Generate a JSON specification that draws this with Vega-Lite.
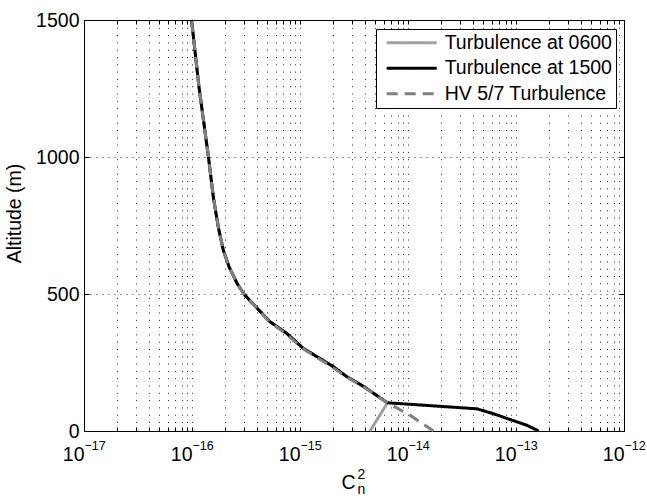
{
  "$schema": "https://vega.github.io/schema/vega-lite/v6.json",
  "width": 540,
  "height": 411,
  "autosize": {"type": "none"},
  "padding": {"left": 84, "top": 20, "right": 23, "bottom": 67},
  "background": "white",
  "config": {
    "view": {"stroke": null},
    "font": "Liberation Sans",
    "axis": {
      "labelFont": "Liberation Sans",
      "titleFont": "Liberation Sans",
      "labelColor": "black",
      "titleColor": "black",
      "domainColor": "black",
      "tickColor": "black",
      "gridColor": "black",
      "titleFontWeight": "normal",
      "labelFlush": false,
      "labelOverlap": false,
      "labelBound": false
    }
  },
  "data": {
    "values": [
      {"series": "Turbulence at 0600", "alt": 1500, "cn2": 9.9e-17},
      {"series": "Turbulence at 0600", "alt": 1256, "cn2": 1.16e-16},
      {"series": "Turbulence at 0600", "alt": 1000, "cn2": 1.42e-16},
      {"series": "Turbulence at 0600", "alt": 850, "cn2": 1.58e-16},
      {"series": "Turbulence at 0600", "alt": 740, "cn2": 1.76e-16},
      {"series": "Turbulence at 0600", "alt": 660, "cn2": 1.95e-16},
      {"series": "Turbulence at 0600", "alt": 600, "cn2": 2.2e-16},
      {"series": "Turbulence at 0600", "alt": 538, "cn2": 2.62e-16},
      {"series": "Turbulence at 0600", "alt": 496, "cn2": 3.08e-16},
      {"series": "Turbulence at 0600", "alt": 399, "cn2": 5.26e-16},
      {"series": "Turbulence at 0600", "alt": 357, "cn2": 7.5e-16},
      {"series": "Turbulence at 0600", "alt": 302, "cn2": 1.07e-15},
      {"series": "Turbulence at 0600", "alt": 235, "cn2": 2.03e-15},
      {"series": "Turbulence at 0600", "alt": 199, "cn2": 2.7e-15},
      {"series": "Turbulence at 0600", "alt": 163, "cn2": 3.86e-15},
      {"series": "Turbulence at 0600", "alt": 103, "cn2": 6.46e-15},
      {"series": "Turbulence at 0600", "alt": 0, "cn2": 4.45e-15},
      {"series": "Turbulence at 1500", "alt": 1500, "cn2": 9.9e-17},
      {"series": "Turbulence at 1500", "alt": 1256, "cn2": 1.16e-16},
      {"series": "Turbulence at 1500", "alt": 1000, "cn2": 1.42e-16},
      {"series": "Turbulence at 1500", "alt": 850, "cn2": 1.58e-16},
      {"series": "Turbulence at 1500", "alt": 740, "cn2": 1.76e-16},
      {"series": "Turbulence at 1500", "alt": 660, "cn2": 1.95e-16},
      {"series": "Turbulence at 1500", "alt": 600, "cn2": 2.2e-16},
      {"series": "Turbulence at 1500", "alt": 538, "cn2": 2.62e-16},
      {"series": "Turbulence at 1500", "alt": 496, "cn2": 3.08e-16},
      {"series": "Turbulence at 1500", "alt": 399, "cn2": 5.26e-16},
      {"series": "Turbulence at 1500", "alt": 357, "cn2": 7.5e-16},
      {"series": "Turbulence at 1500", "alt": 302, "cn2": 1.07e-15},
      {"series": "Turbulence at 1500", "alt": 235, "cn2": 2.03e-15},
      {"series": "Turbulence at 1500", "alt": 199, "cn2": 2.7e-15},
      {"series": "Turbulence at 1500", "alt": 163, "cn2": 3.86e-15},
      {"series": "Turbulence at 1500", "alt": 103, "cn2": 6.46e-15},
      {"series": "Turbulence at 1500", "alt": 81, "cn2": 4.34e-14},
      {"series": "Turbulence at 1500", "alt": 63, "cn2": 6.18e-14},
      {"series": "Turbulence at 1500", "alt": 42, "cn2": 8.8e-14},
      {"series": "Turbulence at 1500", "alt": 21, "cn2": 1.26e-13},
      {"series": "Turbulence at 1500", "alt": 0, "cn2": 1.62e-13},
      {"series": "HV 5/7 Turbulence", "alt": 1500, "cn2": 9.9e-17},
      {"series": "HV 5/7 Turbulence", "alt": 1256, "cn2": 1.16e-16},
      {"series": "HV 5/7 Turbulence", "alt": 1000, "cn2": 1.42e-16},
      {"series": "HV 5/7 Turbulence", "alt": 850, "cn2": 1.58e-16},
      {"series": "HV 5/7 Turbulence", "alt": 740, "cn2": 1.76e-16},
      {"series": "HV 5/7 Turbulence", "alt": 660, "cn2": 1.95e-16},
      {"series": "HV 5/7 Turbulence", "alt": 600, "cn2": 2.2e-16},
      {"series": "HV 5/7 Turbulence", "alt": 538, "cn2": 2.62e-16},
      {"series": "HV 5/7 Turbulence", "alt": 496, "cn2": 3.08e-16},
      {"series": "HV 5/7 Turbulence", "alt": 399, "cn2": 5.2e-16},
      {"series": "HV 5/7 Turbulence", "alt": 357, "cn2": 7.3e-16},
      {"series": "HV 5/7 Turbulence", "alt": 302, "cn2": 1.05e-15},
      {"series": "HV 5/7 Turbulence", "alt": 235, "cn2": 1.95e-15},
      {"series": "HV 5/7 Turbulence", "alt": 199, "cn2": 2.65e-15},
      {"series": "HV 5/7 Turbulence", "alt": 163, "cn2": 3.8e-15},
      {"series": "HV 5/7 Turbulence", "alt": 103, "cn2": 6.46e-15},
      {"series": "HV 5/7 Turbulence", "alt": 57, "cn2": 1.05e-14},
      {"series": "HV 5/7 Turbulence", "alt": 0, "cn2": 1.72e-14}
    ]
  },
  "resolve": {"axis": {"x": "independent", "y": "independent"}},
  "layer": [
    {
      "transform": [{"filter": "datum.series === 'Turbulence at 0600'"}],
      "mark": {"type": "line", "strokeWidth": 3},
      "encoding": {
        "x": {"field": "cn2", "type": "quantitative",
          "scale": {"type": "log", "domain": [1e-17, 1e-12], "nice": false},
          "axis": {"orient": "bottom", "title": null, "labels": false, "ticks": true, "tickSize": -4, "domain": true, "domainWidth": 1,
            "grid": true, "gridDash": [1, 6.3], "gridWidth": 1, "gridOpacity": 0.85,
            "values": [1e-17,2e-17,3e-17,4e-17,5e-17,6e-17,7e-17,8e-17,9e-17,1e-16,2e-16,3e-16,4e-16,5e-16,6e-16,7e-16,8e-16,9e-16,1e-15,2e-15,3e-15,4e-15,5e-15,6e-15,7e-15,8e-15,9e-15,1e-14,2e-14,3e-14,4e-14,5e-14,6e-14,7e-14,8e-14,9e-14,1e-13,2e-13,3e-13,4e-13,5e-13,6e-13,7e-13,8e-13,9e-13,1e-12]}},
        "y": {"field": "alt", "type": "quantitative",
          "scale": {"domain": [0, 1500], "nice": false, "zero": false},
          "axis": {"orient": "left", "values": [0, 500, 1000, 1500], "format": "d", "title": "Altitude (m)", "titleFontSize": 19.5, "titleX": -60, "titleY": 193, "titleBaseline": "bottom",
            "labelFontSize": 19.5, "labelPadding": 10, "tickSize": -5, "domain": true,
            "grid": true, "gridDash": [1, 5], "gridOpacity": 0.85}},
        "order": {"field": "alt", "type": "quantitative"},
        "color": {"field": "series", "type": "nominal",
          "scale": {"domain": ["Turbulence at 0600", "Turbulence at 1500", "HV 5/7 Turbulence"], "range": ["#a0a0a0", "#000000", "#808080"]},
          "legend": {"orient": "none", "legendX": 292, "legendY": 9, "title": null, "symbolType": "M-5,0H5", "symbolSize": 100, "symbolStrokeWidth": 3,
            "symbolOffset": 21.95, "labelOffset": 23.2, "labelFontSize": 19.5, "labelFont": "Liberation Sans", "labelColor": "black", "labelLimit": 0,
            "fillColor": "white", "strokeColor": "black", "padding": 4, "rowPadding": 4.5}},
        "strokeDash": {"field": "series", "type": "nominal",
          "scale": {"domain": ["Turbulence at 0600", "Turbulence at 1500", "HV 5/7 Turbulence"], "range": [[1, 0], [1, 0], [11, 7]]},
          "legend": {"orient": "none", "legendX": 292, "legendY": 9, "title": null, "symbolType": "M-5,0H5", "symbolSize": 100, "symbolStrokeWidth": 3,
            "symbolOffset": 21.95, "labelOffset": 23.2, "labelFontSize": 19.5, "labelFont": "Liberation Sans", "labelColor": "black", "labelLimit": 0,
            "fillColor": "white", "strokeColor": "black", "padding": 4, "rowPadding": 4.5}}
      }
    },
    {
      "transform": [{"filter": "datum.series === 'Turbulence at 1500'"}],
      "mark": {"type": "line", "strokeWidth": 3},
      "encoding": {
        "x": {"field": "cn2", "type": "quantitative",
          "axis": {"orient": "bottom", "title": null, "ticks": false, "domain": false, "grid": false,
            "values": [1e-17, 1e-16, 1e-15, 1e-14, 1e-13, 1e-12], "labelExpr": "'10'",
            "labelFontSize": 19.5, "labelAlign": "right", "labelBaseline": "alphabetic", "labelDx": 1, "labelPadding": 29}},
        "y": {"field": "alt", "type": "quantitative",
          "axis": {"orient": "right", "values": [0, 500, 1000, 1500], "title": null, "labels": false, "tickSize": -5, "domain": true, "grid": false}},
        "order": {"field": "alt", "type": "quantitative"},
        "color": {"field": "series", "type": "nominal"},
        "strokeDash": {"field": "series", "type": "nominal"}
      }
    },
    {
      "transform": [{"filter": "datum.series === 'HV 5/7 Turbulence'"}],
      "mark": {"type": "line", "strokeWidth": 3},
      "encoding": {
        "x": {"field": "cn2", "type": "quantitative",
          "axis": {"orient": "bottom", "ticks": false, "domain": false, "grid": false,
            "values": [1e-17, 1e-16, 1e-15, 1e-14, 1e-13, 1e-12], "labelExpr": "'\u2212' + toString(-round(log(datum.value) / LN10))",
            "labelFontSize": 12.5, "labelAlign": "left", "labelBaseline": "alphabetic", "labelDx": 1, "labelPadding": 18,
            "title": "C", "titleFontSize": 19.5, "titleX": 264, "titleY": 57.5, "titleAlign": "center", "titleBaseline": "alphabetic", "titleAngle": 0}},
        "y": {"field": "alt", "type": "quantitative", "axis": null},
        "order": {"field": "alt", "type": "quantitative"},
        "color": {"field": "series", "type": "nominal"},
        "strokeDash": {"field": "series", "type": "nominal"}
      }
    },
    {
      "transform": [{"filter": "datum.series === 'HV 5/7 Turbulence'"}],
      "mark": {"type": "line", "opacity": 0},
      "encoding": {
        "x": {"field": "cn2", "type": "quantitative",
          "axis": {"orient": "top", "title": null, "labels": false, "tickSize": -4, "domain": true, "grid": false,
            "values": [1e-17,2e-17,3e-17,4e-17,5e-17,6e-17,7e-17,8e-17,9e-17,1e-16,2e-16,3e-16,4e-16,5e-16,6e-16,7e-16,8e-16,9e-16,1e-15,2e-15,3e-15,4e-15,5e-15,6e-15,7e-15,8e-15,9e-15,1e-14,2e-14,3e-14,4e-14,5e-14,6e-14,7e-14,8e-14,9e-14,1e-13,2e-13,3e-13,4e-13,5e-13,6e-13,7e-13,8e-13,9e-13,1e-12]}},
        "y": {"field": "alt", "type": "quantitative", "axis": null},
        "order": {"field": "alt", "type": "quantitative"}
      }
    },
    {
      "transform": [{"filter": "datum.series === 'HV 5/7 Turbulence'"}],
      "mark": {"type": "line", "opacity": 0},
      "encoding": {
        "x": {"field": "cn2", "type": "quantitative",
          "axis": {"orient": "bottom", "labels": false, "ticks": false, "domain": false, "grid": false,
            "title": "2", "titleFontSize": 14, "titleX": 277, "titleY": 47.5, "titleAlign": "center", "titleBaseline": "alphabetic", "titleAngle": 0}},
        "y": {"field": "alt", "type": "quantitative", "axis": null},
        "order": {"field": "alt", "type": "quantitative"}
      }
    },
    {
      "transform": [{"filter": "datum.series === 'HV 5/7 Turbulence'"}],
      "mark": {"type": "line", "opacity": 0},
      "encoding": {
        "x": {"field": "cn2", "type": "quantitative",
          "axis": {"orient": "bottom", "labels": false, "ticks": false, "domain": false, "grid": false,
            "title": "n", "titleFontSize": 14, "titleX": 277, "titleY": 62.5, "titleAlign": "center", "titleBaseline": "alphabetic", "titleAngle": 0}},
        "y": {"field": "alt", "type": "quantitative", "axis": null},
        "order": {"field": "alt", "type": "quantitative"}
      }
    }
  ]
}
